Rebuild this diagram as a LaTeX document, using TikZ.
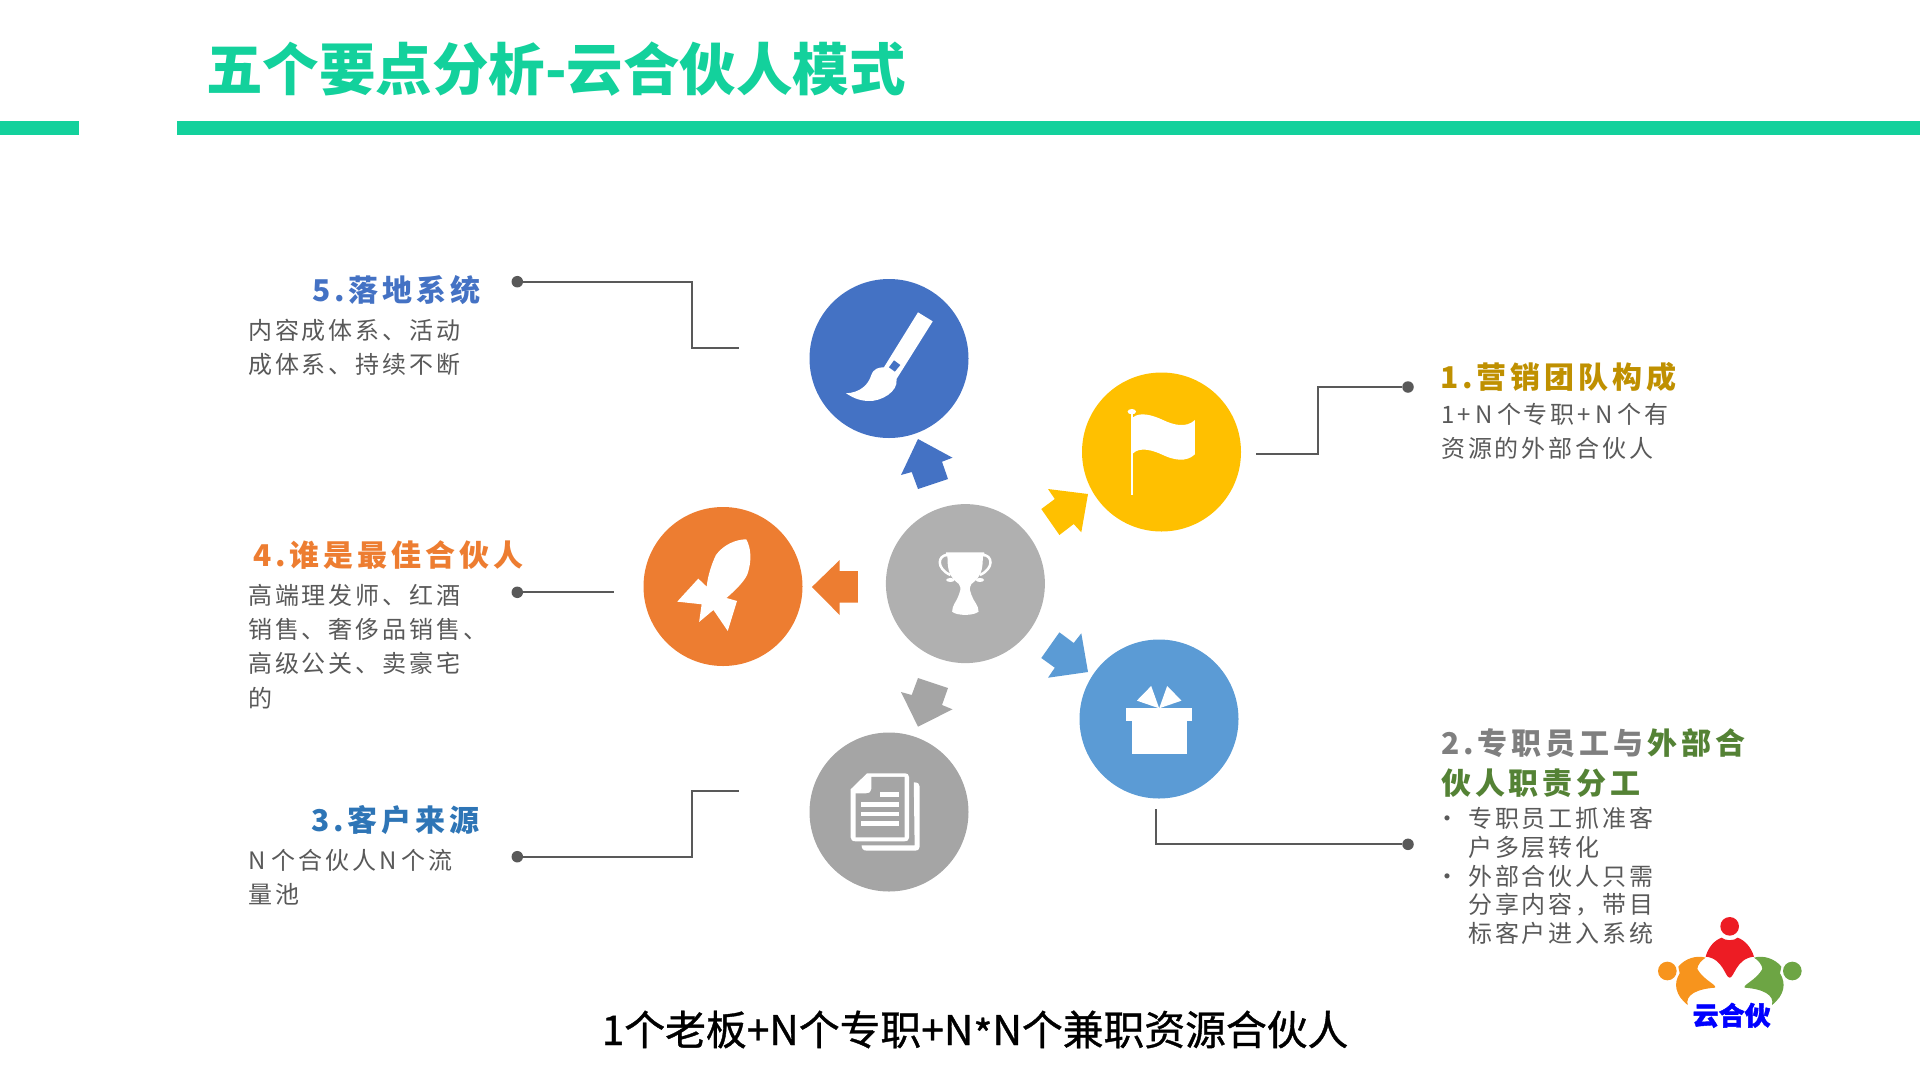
\documentclass[tikz,border=0pt]{standalone}
\usepackage{fontspec}
\usepackage{tikz}
\setmainfont{Noto Sans CJK SC}
\newfontfamily\headfont{Noto Sans CJK SC}[LetterSpace=13]
\newfontfamily\bodyfont{Noto Sans CJK SC}[LetterSpace=12]
\newfontfamily\footfont{Noto Sans CJK SC}[FakeBold=0.9]
\newfontfamily\logofont{Noto Sans CJK SC}[BoldFeatures={FakeBold=1.5}]
\definecolor{titlegreen}{HTML}{13D19C}
\definecolor{brushblue}{HTML}{4472C4}
\definecolor{flagyellow}{HTML}{FFC000}
\definecolor{giftblue}{HTML}{5B9BD5}
\definecolor{rocketorange}{HTML}{ED7D31}
\definecolor{cupgray}{HTML}{B0B0B0}
\definecolor{docgray}{HTML}{A5A5A5}
\definecolor{leadgray}{HTML}{595959}
\definecolor{goldhead}{HTML}{BF9000}
\definecolor{sourceblue}{HTML}{2E75B6}
\definecolor{splitgray}{HTML}{7F7F7F}
\definecolor{splitgreen}{HTML}{548235}
\definecolor{logored}{HTML}{ED1C24}
\definecolor{logoorange}{HTML}{F7941D}
\definecolor{logogreen}{HTML}{6DA544}
\definecolor{logoblue}{HTML}{0000FF}

\begin{document}
\begin{tikzpicture}[x=1pt,y=-1pt,
    disc/.style={circle,minimum size=159pt,inner sep=0pt},
    dotend/.style={circle,fill=leadgray,minimum size=11.5pt,inner sep=0pt},
    lead/.style={leadgray,line width=1.9pt},
    headtext/.style={anchor=base west,inner sep=0pt,font=\headfont\bfseries\fontsize{30}{40}\selectfont},
    bodytext/.style={anchor=north west,inner sep=0pt,align=left,text=leadgray,font=\bodyfont\fontsize{24}{34.3}\selectfont},
    zoomA/.style={shift={(620,260)},x=0.4209pt,y=-0.3333pt},
    zoomB/.style={shift={(620,500)},x=0.4209pt,y=-0.3333pt}]
    \useasboundingbox (0,0) rectangle (1920,1080);

    % Title and rules
    \node[anchor=base west,inner sep=0pt,text=titlegreen,font=\bfseries\fontsize{56.5}{60}\selectfont] (title) at (206,90) {五个要点分析-云合伙人模式};
    \fill[titlegreen] (0,121) rectangle (79,135);
    \fill[titlegreen] (177,121) rectangle (1920,135);

    % Discs
    \node[disc,fill=brushblue] (brush) at (889,358.5) {};
    \node[disc,fill=flagyellow] (flag) at (1161.5,452) {};
    \node[disc,fill=cupgray] (cup) at (965.4,583.6) {};
    \node[disc,fill=rocketorange] (rocket) at (723,586.5) {};
    \node[disc,fill=giftblue] (gift) at (1159,719) {};
    \node[disc,fill=docgray] (doc) at (889,812) {};

    % Arrows round the middle disc
    \fill[brushblue] (918,439) -- (952.5,457.7) -- (942,461.7) -- (948,479) -- (918,489) -- (911.7,472) -- (901,475) -- cycle;
    \fill[flagyellow] (1088,494) -- (1048,489) -- (1054.8,499) -- (1041.3,509) -- (1059.4,535) -- (1073.7,524) -- (1081.3,532.3) -- cycle;
    \fill[rocketorange] (811.9,587) -- (839.7,560) -- (839.7,571) -- (857.8,571) -- (857.8,602.7) -- (839.7,602.7) -- (839.7,615) -- cycle;
    \fill[giftblue] (1088,672) -- (1048,677.7) -- (1054.8,667.7) -- (1041.3,658) -- (1059.4,632.3) -- (1073.7,643) -- (1081.3,633.3) -- cycle;
    \fill[docgray] (918,726.7) -- (952.5,709.3) -- (942,705) -- (948,688) -- (918,678) -- (911.7,695) -- (901,692) -- cycle;

    % Brush icon
    \begin{scope}[zoomA]
        \fill[white] (708,157) -- (743,184) -- (657,357) .. controls (662,395) and (620,425) .. (590,423) .. controls (565,422) and (550,410) .. (537,400) .. controls (570,398) and (590,375) .. (597,345) .. controls (603,325) and (615,322) .. (627,322) -- cycle;
        \fill[brushblue] (651,301) -- (666,315) -- (653,335) -- (639,322) -- cycle;
    \end{scope}

    % Flag icon
    \begin{scope}[zoomA]
        \fill[white] (1215,462) rectangle (1219,705);
        \fill[white] (1216,455) ellipse (10 and 8);
        \fill[white] (1219,472) .. controls (1235,455) and (1265,465) .. (1290,480) .. controls (1315,495) and (1345,505) .. (1366,480) -- (1366,583) .. controls (1345,608) and (1315,600) .. (1290,585) .. controls (1265,570) and (1235,560) .. (1219,580) -- cycle;
    \end{scope}

    % Rocket icon
    \begin{scope}[zoomA]
        \fill[white] (300,838) .. controls (310,860) and (315,900) .. (302,945) .. controls (292,970) and (270,995) .. (253,1014) -- (278,1023) -- (256,1113) -- (222,1050) -- (188,1086) -- (194,1033) -- (136,1025) -- (186,956) -- (206,980) .. controls (208,950) and (218,910) .. (228,885) .. controls (245,855) and (275,838) .. (300,838) -- cycle;
    \end{scope}

    % Trophy icon
    \begin{scope}[zoomA]
        \fill[white] (775,877) -- (865,877) .. controls (868,885) .. (862,890) .. controls (862,930) and (858,950) .. (835,972) .. controls (828,985) and (832,995) .. (835,1005) .. controls (840,1025) and (852,1035) .. (852,1055) .. controls (840,1068) and (800,1068) .. (789,1055) .. controls (789,1035) and (800,1025) .. (805,1005) .. controls (808,995) and (812,985) .. (805,972) .. controls (782,950) and (778,930) .. (778,890) .. controls (772,885) .. cycle;
        \draw[white,line width=2.5pt] (778,885) .. controls (755,885) and (750,925) .. (785,945);
        \draw[white,line width=2.5pt] (862,885) .. controls (885,885) and (890,925) .. (855,945);
        \fill[white] (785,960) ellipse (10 and 6);
        \fill[white] (855,960) ellipse (10 and 6);
    \end{scope}

    % Gift icon
    \begin{scope}[zoomB]
        \fill[white] (1202,625) rectangle (1360,663);
        \fill[white] (1216,663) rectangle (1346,763);
        \fill[white] (1281,625) -- (1228,602) -- (1262,558) -- cycle;
        \fill[white] (1281,625) -- (1334,602) -- (1300,558) -- cycle;
    \end{scope}

    % Paper icon
    \begin{scope}[zoomB]
        \fill[white] (587,820) -- (675,820) .. controls (683,820) and (687,824) .. (687,832) -- (687,1012) .. controls (687,1020) and (683,1024) .. (675,1024) -- (560,1024) .. controls (552,1024) and (548,1020) .. (548,1012) -- (548,868) -- cycle;
        \fill[docgray] (560,880) -- (585,880) .. controls (593,880) and (597,875) .. (597,868) -- (597,831) -- (676,831) -- (676,1012) -- (560,1012) -- cycle;
        \fill[white] (618,877) rectangle (663,891);
        \fill[white] (572,906) rectangle (662,920);
        \fill[white] (572,935) rectangle (662,949);
        \fill[white] (573,963) rectangle (663,978);
        \fill[white] (698,847) .. controls (708,847) and (712,852) .. (712,860) -- (712,1040) .. controls (712,1048) and (708,1052) .. (700,1052) -- (586,1052) .. controls (578,1052) and (574,1046) .. (574,1036) -- (700,1036) -- cycle;
    \end{scope}

    % Leader lines
    \node[dotend] (dot5) at (517.3,281.7) {};
    \coordinate (bend5) at (692,281.7);
    \coordinate (tail5a) at (692,348);
    \coordinate (tail5) at (739,348);
    \draw[lead] (dot5) -- (bend5) -- (tail5a) -- (tail5);

    \node[dotend] (dot4) at (517.3,592.3) {};
    \coordinate (tail4) at (614,592.3);
    \draw[lead] (dot4) -- (tail4);

    \node[dotend] (dot3) at (517.3,856.7) {};
    \coordinate (bend3) at (692,856.7);
    \coordinate (tail3a) at (692,790.7);
    \coordinate (tail3) at (739,790.7);
    \draw[lead] (dot3) -- (bend3) -- (tail3a) -- (tail3);

    \node[dotend] (dot1) at (1408,387) {};
    \coordinate (bend1) at (1317.6,387);
    \coordinate (tail1a) at (1317.6,453.7);
    \coordinate (tail1) at (1256,453.7);
    \draw[lead] (dot1) -- (bend1) -- (tail1a) -- (tail1);

    \node[dotend] (dot2) at (1408,844.3) {};
    \coordinate (bend2) at (1155.8,844.3);
    \coordinate (tail2) at (1155.8,809);
    \draw[lead] (dot2) -- (bend2) -- (tail2);

    % Left texts
    \node[headtext,text=brushblue] (head5) at (312,301.5) {5.落地系统};
    \node[bodytext] (body5) at (248,315) {\strut 内容成体系、活动\\成体系、持续不断};

    \node[headtext,text=rocketorange] (head4) at (253,566) {4.谁是最佳合伙人};
    \node[bodytext] (body4) at (248,580) {\strut 高端理发师、红酒\\销售、奢侈品销售、\\高级公关、卖豪宅\\的};

    \node[headtext,text=sourceblue] (head3) at (311,831.5) {3.客户来源};
    \node[bodytext] (body3) at (248,845) {\strut N\kern6pt 个合伙人N\kern5pt 个流\\量池};

    % Right texts
    \node[headtext,text=goldhead] (head1) at (1440,388) {1.营销团队构成};
    \node[bodytext] (body1) at (1441,399) {\strut 1+\kern4.5pt N\kern4.5pt 个专职+\kern4.5pt N\kern4.5pt 个有\\资源的外部合伙人};

    \node[headtext,anchor=north west,align=left] (head2) at (1441,726) {\strut\textcolor{splitgray}{2.专职员工与\kern4pt}\textcolor{splitgreen}{外部合}\\\textcolor{splitgreen}{伙人职责分工}};
    \node[bodytext,font=\bodyfont\fontsize{24}{28.5}\selectfont] (body2) at (1468,806.5) {\strut\llap{\makebox[33pt][l]{•}}专职员工抓准客\\户多层转化\\\llap{\makebox[33pt][l]{•}}外部合伙人只需\\分享内容，带目\\标客户进入系统};

    % Bottom line
    \node[anchor=base,inner sep=0pt,font=\footfont\fontsize{40.8}{44}\selectfont] (slogan) at (975,1045) {1个老板+N个专职+N\raisebox{-5pt}{*}N个兼职资源合伙人};

    % Logo
    \begin{scope}[shift={(1640,905)},x=0.3333pt,y=-0.3333pt]
        \def\logobody{(197,158) .. controls (170,150) and (135,160) .. (115,185) -- (119,205) .. controls (100,235) and (105,270) .. (143,300) .. controls (135,270) and (170,252) .. (225,248) .. controls (232,240) and (190,225) .. (172,192) .. controls (172,180) and (185,165) .. (197,158) -- cycle}
        \fill[logored] (269,64) circle (28);
        \fill[logored] (269,218) .. controls (255,218) and (250,160) .. (197,155) .. controls (205,125) and (225,105) .. (245,98) .. controls (255,108) and (283,108) .. (293,98) .. controls (313,105) and (333,125) .. (342,155) .. controls (288,160) and (283,218) .. (269,218) -- cycle;
        \fill[logoorange] (82,198) circle (28);
        \fill[logoorange] \logobody;
        \node[inner sep=0pt,text=logoblue,font=\logofont\bfseries\fontsize{26}{28}\selectfont] (logotext) at (275,331) {云合伙};
    \end{scope}
    \begin{scope}[shift={(1819.67,905)},x=-0.3333pt,y=-0.3333pt]
        \def\logobody{(197,158) .. controls (170,150) and (135,160) .. (115,185) -- (119,205) .. controls (100,235) and (105,270) .. (143,300) .. controls (135,270) and (170,252) .. (225,248) .. controls (232,240) and (190,225) .. (172,192) .. controls (172,180) and (185,165) .. (197,158) -- cycle}
        \fill[logogreen] (82,198) circle (28);
        \fill[logogreen] \logobody;
    \end{scope}
\end{tikzpicture}
\end{document}
